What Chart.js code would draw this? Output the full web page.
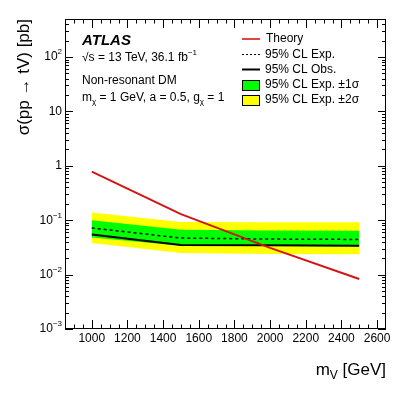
<!DOCTYPE html>
<html>
<head>
<meta charset="utf-8">
<script src="https://cdn.jsdelivr.net/npm/chart.js@4.4.1/dist/chart.umd.min.js"></script>
<style>
  body { margin: 0; background: #fff; }
  canvas { display: block; }
</style>
</head>
<body>
<canvas id="chLimit" width="407" height="393"></canvas>
<script>
// mass points [GeV]
var masses = [1000, 1500, 2000, 2500];

// cross sections [pb]
var theory = [0.785, 0.129, 0.031, 0.0083];
var expected = [0.072, 0.047, 0.045, 0.0443];
var observed = [0.0546, 0.0350, 0.0345, 0.0340];
var up1sig = [0.100, 0.067, 0.065, 0.0640];
var down1sig = [0.048, 0.034, 0.0335, 0.0330];
var up2sig = [0.138, 0.093, 0.092, 0.0920];
var down2sig = [0.038, 0.025, 0.024, 0.0237];

// axis ticks
var xTicks = [1000, 1200, 1400, 1600, 1800, 2000, 2200, 2400, 2600];
var yDecades = [-3, -2, -1, 0, 1, 2];

var FONT = "'Liberation Sans', Arial, sans-serif";

function pts(vals) {
    return masses.map(function (m, i) { return { x: m, y: vals[i] }; });
}

// text with sub/superscripts: parts = [[text, 'n'|'sup'|'sub'], ...]
function rich(ctx, parts, x, y, size, weight) {
    ctx.textBaseline = 'middle';
    ctx.textAlign = 'left';
    var cx = x;
    parts.forEach(function (p) {
        var s = p[1] === 'n' ? size : Math.round(size * 0.7);
        var dy = p[1] === 'sup' ? -size * 0.4 : (p[1] === 'sub' ? size * 0.35 : 0);
        ctx.font = (weight || '') + ' ' + s + 'px ' + FONT;
        ctx.fillText(p[0], cx, y + dy);
        cx += ctx.measureText(p[0]).width;
    });
    return cx - x;
}
function richWidth(ctx, parts, size) {
    var w = 0;
    parts.forEach(function (p) {
        var s = p[1] === 'n' ? size : Math.round(size * 0.7);
        ctx.font = s + 'px ' + FONT;
        w += ctx.measureText(p[0]).width;
    });
    return w;
}

var rootStyle = {
    id: 'rootStyle',
    afterDraw: function (chart) {
        var ctx = chart.ctx;
        var a = chart.chartArea;
        var xs = chart.scales.x, ys = chart.scales.y;
        ctx.save();
        ctx.fillStyle = '#000';
        ctx.strokeStyle = '#000';

        // frame
        ctx.lineWidth = 1;
        ctx.strokeRect(a.left + 0.5, a.top + 0.5, a.right - a.left - 1, a.bottom - a.top - 1);

        // x ticks (major 200, minor 50)
        ctx.beginPath();
        for (var m = 850; m <= 2650; m += 50) {
            var px = Math.round(xs.getPixelForValue(m)) + 0.5;
            if (px < a.left + 1 || px > a.right - 1) continue;
            var len = (m % 200 === 0) ? 9 : 4.5;
            ctx.moveTo(px, a.bottom); ctx.lineTo(px, a.bottom - len);
            ctx.moveTo(px, a.top); ctx.lineTo(px, a.top + len);
        }
        // y ticks (decades + minors)
        for (var d = -3; d <= 2; d++) {
            for (var k = 1; k <= 9; k++) {
                var v = k * Math.pow(10, d);
                if (v > ys.max) continue;
                var py = Math.round(ys.getPixelForValue(v)) + 0.5;
                var ln = (k === 1) ? 8 : 4;
                ctx.moveTo(a.left, py); ctx.lineTo(a.left + ln, py);
                ctx.moveTo(a.right, py); ctx.lineTo(a.right - ln, py);
            }
        }
        ctx.stroke();

        // x tick labels
        ctx.font = '12px ' + FONT;
        ctx.textAlign = 'center';
        ctx.textBaseline = 'middle';
        xTicks.forEach(function (t) {
            ctx.fillText(String(t), xs.getPixelForValue(t), a.bottom + 10);
        });

        // y tick labels
        yDecades.forEach(function (e) {
            var py = ys.getPixelForValue(Math.pow(10, e));
            var parts;
            if (e === 0) parts = [['1', 'n']];
            else if (e === 1) parts = [['10', 'n']];
            else parts = [['10', 'n'], [e < 0 ? '\u2212' + (-e) : String(e), 'sup']];
            var w = richWidth(ctx, parts, 12);
            rich(ctx, parts, a.left - 3 - w, py, 12);
        });

        // axis titles
        ctx.save();
        ctx.translate(24, a.top);
        ctx.rotate(-Math.PI / 2);
        ctx.font = '17px ' + FONT;
        ctx.textAlign = 'right';
        ctx.textBaseline = 'middle';
        ctx.fillText('\u03c3(pp \u2192 tV) [pb]', 0, 0);
        ctx.restore();

        var xt = [['m', 'n'], ['V', 'sub'], [' [GeV]', 'n']];
        var xw = richWidth(ctx, xt, 17);
        rich(ctx, xt, a.right - xw, 370, 17);

        // ATLAS label block
        ctx.font = 'italic bold 15px ' + FONT;
        ctx.textAlign = 'left';
        ctx.textBaseline = 'middle';
        ctx.fillText('ATLAS', 82, 41);
        rich(ctx, [['\u221as = 13 TeV, 36.1 fb', 'n'], ['\u22121', 'sup']], 82, 58, 12);
        rich(ctx, [['Non-resonant DM', 'n']], 82, 81, 12);
        rich(ctx, [['m', 'n'], ['\u03c7', 'sub'], [' = 1 GeV, a = 0.5, g', 'n'], ['\u03c7', 'sub'], [' = 1', 'n']], 82, 98, 12);

        // legend
        var lx = 242, tx = 265;
        var rows = [39, 54.5, 69.5, 85, 100];
        ctx.lineWidth = 2;
        ctx.strokeStyle = '#e04545';
        ctx.beginPath(); ctx.moveTo(lx, rows[0]); ctx.lineTo(lx + 18, rows[0]); ctx.stroke();
        ctx.strokeStyle = '#000';
        ctx.lineWidth = 1;
        ctx.setLineDash([2, 2]);
        ctx.beginPath(); ctx.moveTo(lx, rows[1]); ctx.lineTo(lx + 18, rows[1]); ctx.stroke();
        ctx.setLineDash([]);
        ctx.lineWidth = 2;
        ctx.beginPath(); ctx.moveTo(lx, rows[2]); ctx.lineTo(lx + 18, rows[2]); ctx.stroke();
        ctx.lineWidth = 1;
        ctx.fillStyle = '#00ff00';
        ctx.fillRect(lx, rows[3] - 5, 17, 10);
        ctx.strokeRect(lx + 0.5, rows[3] - 4.5, 17, 10);
        ctx.fillStyle = '#ffff00';
        ctx.fillRect(lx, rows[4] - 5, 17, 10);
        ctx.strokeRect(lx + 0.5, rows[4] - 4.5, 17, 10);
        ctx.fillStyle = '#000';
        var labels = ['Theory', '95% CL Exp.', '95% CL Obs.', '95% CL Exp. \u00b11\u03c3', '95% CL Exp. \u00b12\u03c3'];
        labels.forEach(function (t, i) {
            rich(ctx, [[t, 'n']], i === 0 ? tx + 1 : tx, rows[i], 12);
        });

        ctx.restore();
    }
};

var chLimit = document.getElementById('chLimit');
new Chart(chLimit, {
    type: 'line',
    data: {
        datasets: [
            { data: pts(up2sig), borderWidth: 0, pointRadius: 0, backgroundColor: '#ffff00', fill: '+1', order: 6 },
            { data: pts(down2sig), borderWidth: 0, pointRadius: 0, fill: false, order: 6 },
            { data: pts(up1sig), borderWidth: 0, pointRadius: 0, backgroundColor: '#00ff00', fill: '+1', order: 4 },
            { data: pts(down1sig), borderWidth: 0, pointRadius: 0, fill: false, order: 4 },
            { data: pts(expected), borderColor: '#000', borderWidth: 1.5, borderDash: [3, 3], pointRadius: 0, fill: false, order: 2 },
            { data: pts(observed), borderColor: '#000', borderWidth: 2, pointRadius: 0, fill: false, order: 1 },
            { data: pts(theory), borderColor: '#d41414', borderWidth: 2, pointRadius: 0, fill: false, order: 0 }
        ]
    },
    options: {
        responsive: false,
        devicePixelRatio: 1,
        animation: false,
        layout: { padding: { left: 65, right: 21, top: 19, bottom: 64 } },
        plugins: { legend: { display: false }, tooltip: { enabled: false } },
        scales: {
            x: { type: 'linear', min: 850, max: 2650, display: false },
            y: { type: 'logarithmic', min: 0.001, max: 500, display: false }
        }
    },
    plugins: [rootStyle]
});
</script>
</body>
</html>
